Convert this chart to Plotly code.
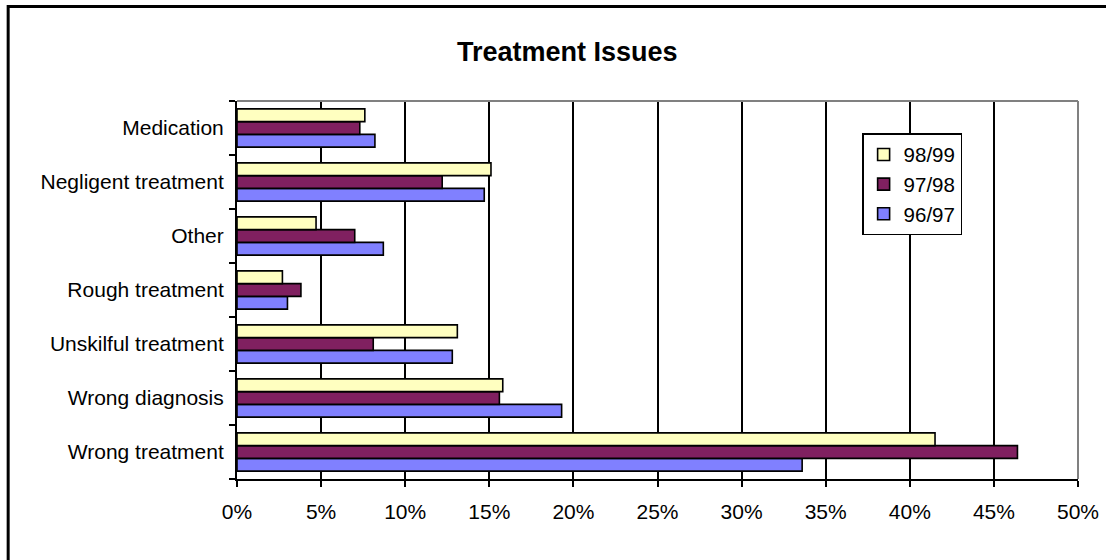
import plotly.graph_objects as go

# Complaint categories, listed bottom-to-top as they appear on the axis
categories = [
    "Wrong treatment",
    "Wrong diagnosis",
    "Unskilful treatment",
    "Rough treatment",
    "Other",
    "Negligent treatment",
    "Medication",
]

# Share of treatment issues per year (%)
share_9697 = [33.6, 19.3, 12.8, 3.0, 8.7, 14.7, 8.2]
share_9798 = [46.4, 15.6, 8.1, 3.8, 7.0, 12.2, 7.3]
share_9899 = [41.5, 15.8, 13.1, 2.7, 4.7, 15.1, 7.6]

series_names = ["96/97", "97/98", "98/99"]
series_colors = ["#8080FF", "#802060", "#FFFFC0"]
series_values = [share_9697, share_9798, share_9899]

x_ticks = list(range(0, 55, 5))
x_tick_labels = ["0%", "5%", "10%", "15%", "20%", "25%", "30%", "35%", "40%", "45%", "50%"]

FONT = "Liberation Sans, Arial, Helvetica, sans-serif"

fig = go.Figure()
for name, color, vals in zip(series_names, series_colors, series_values):
    fig.add_trace(
        go.Bar(
            y=categories,
            x=vals,
            name=name,
            orientation="h",
            legendgroup=name,
            marker=dict(color=color, line=dict(color="black", width=1.6)),
        )
    )

fig.update_layout(
    width=1106,
    height=560,
    margin=dict(l=236.5, r=28, t=101, b=81, pad=0, autoexpand=False),
    paper_bgcolor="white",
    plot_bgcolor="white",
    barmode="group",
    bargap=0.29,
    bargroupgap=0,
    font=dict(family=FONT, size=21, color="black"),
    showlegend=True,
    legend=dict(
        x=0.7433,
        y=0.915,
        xanchor="left",
        yanchor="top",
        traceorder="reversed",
        tracegroupgap=7,
        itemwidth=30,
        bordercolor="black",
        borderwidth=1.5,
        bgcolor="white",
        font=dict(family=FONT, size=20.5, color="black"),
    ),
    xaxis=dict(
        range=[0, 50],
        tickmode="array",
        tickvals=x_ticks,
        ticktext=x_tick_labels,
        showgrid=True,
        gridcolor="black",
        gridwidth=1.5,
        showline=True,
        linecolor="black",
        linewidth=2,
        ticks="outside",
        ticklen=6,
        tickwidth=1.5,
        tickcolor="black",
        ticklabelstandoff=7,
        zeroline=False,
        automargin=False,
        fixedrange=True,
    ),
    yaxis=dict(
        type="category",
        categoryorder="array",
        categoryarray=categories,
        showgrid=False,
        showline=True,
        linecolor="black",
        linewidth=2,
        ticks="outside",
        tickson="boundaries",
        ticklen=6,
        tickwidth=1.5,
        tickcolor="black",
        ticklabelstandoff=7,
        zeroline=False,
        automargin=False,
        fixedrange=True,
    ),
    annotations=[
        dict(
            text="<b>Treatment Issues</b>",
            xref="paper",
            yref="paper",
            x=0.3927,
            y=1.1296,
            xanchor="center",
            yanchor="middle",
            showarrow=False,
            font=dict(family=FONT, size=27, color="black"),
        )
    ],
    shapes=[
        # grey plot-area border on top and right
        dict(type="line", xref="paper", yref="paper", x0=0, x1=1, y0=1, y1=1,
             line=dict(color="#808080", width=2), layer="above"),
        dict(type="line", xref="paper", yref="paper", x0=1, x1=1, y0=0, y1=1,
             line=dict(color="#808080", width=2), layer="above"),
        # outer chart frame
        dict(type="rect", xref="paper", yref="paper",
             x0=-0.2721, x1=1.1, y0=-0.25, y1=1.25,
             line=dict(color="black", width=3), layer="above"),
    ],
)

fig.write_html("out.html")
